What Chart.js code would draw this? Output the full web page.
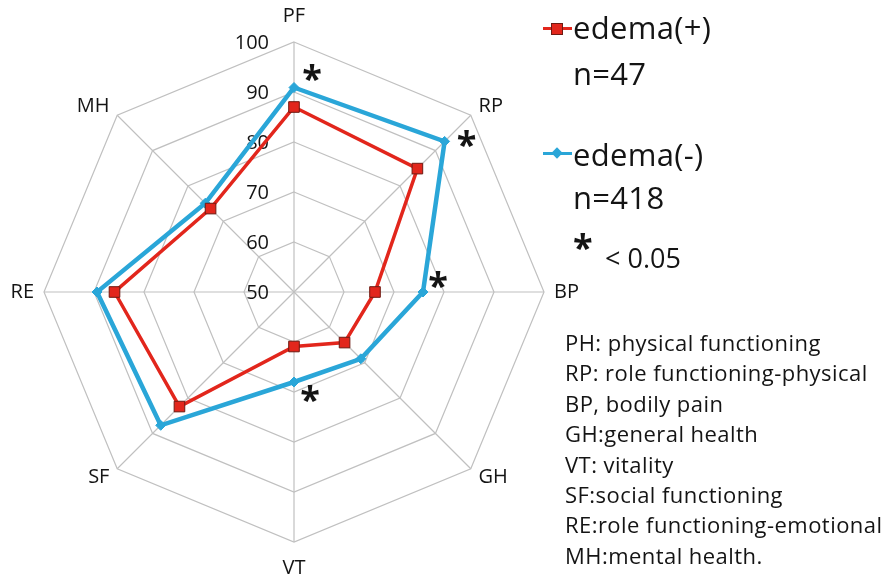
<!DOCTYPE html>
<html>
<head>
<meta charset="utf-8">
<script src="https://cdn.jsdelivr.net/npm/chart.js@4.4.1/dist/chart.umd.min.js"></script>
<style>
  html, body { margin: 0; padding: 0; background: #fff; }
  body { width: 896px; height: 579px; position: relative; overflow: hidden;
         font-family: 'Open Sans', sans-serif; color: #141414; }
  #wrap { position: absolute; left: -56px; top: 4px; width: 700px; height: 576px; }
  .t { position: absolute; white-space: nowrap; }
  .big { font-size: 31px; line-height: 36px; letter-spacing: 0.3px; }
  .line { position: absolute; height: 3px; }
  #notes { position: absolute; left: 565px; top: 327px; font-size: 22px; line-height: 30.4px;
           letter-spacing: 0.45px; white-space: nowrap; }
</style>
</head>
<body>
<div id="wrap"><canvas id="radar"></canvas></div>

<!-- legend -->
<div class="line" style="left:543px; top:27px; width:29px; background:#e2261c;"></div>
<div style="position:absolute; left:551px; top:23px; width:10px; height:10px; background:#e2261c; border:1px solid #6e1a12;"></div>
<div class="t big" style="left:573px; top:9px;">edema(+)</div>
<div class="t big" style="left:573px; top:55px;">n=47</div>

<div class="line" style="left:543px; top:152px; width:29px; background:#2aa6d8;"></div>
<div style="position:absolute; left:553px; top:149px; width:8px; height:8px; background:#2aa6d8; transform:rotate(45deg);"></div>
<div class="t big" style="left:573px; top:136px;">edema(-)</div>
<div class="t big" style="left:573px; top:179px;">n=418</div>

<div class="t" style="left:573px; top:227px; font-size:36px; line-height:40px; font-weight:bold;">*</div>
<div class="t" style="left:605px; top:242px; font-size:27px; line-height:32px;">&lt; 0.05</div>

<div id="notes">
  PH: physical functioning<br>
  RP: role functioning-physical<br>
  BP, bodily pain<br>
  GH:general health<br>
  VT: vitality<br>
  SF:social functioning<br>
  RE:role functioning-emotional<br>
  MH:mental health.
</div>

<script>
const axes = ['PF', 'RP', 'BP', 'GH', 'VT', 'SF', 'RE', 'MH'];
const edemaPos = [87.0, 84.9, 66.2, 64.3, 60.9, 82.4, 85.9, 73.6];
const edemaNeg = [90.9, 92.6, 75.8, 68.9, 68.0, 87.7, 89.4, 75.1];
const tickValues = [50, 60, 70, 80, 90, 100];
const significant = ['PF', 'RP', 'BP', 'VT'];

const RED = '#e2261c';
const BLUE = '#2aa6d8';
const GRID = '#c0c0c0';
const TEXT = '#141414';

// scale numbers sit left of the vertical axis, under the lines
const tickLabels = {
  id: 'tickLabels',
  beforeDatasetsDraw(chart) {
    const r = chart.scales.r;
    const ctx = chart.ctx;
    ctx.save();
    ctx.font = '20px "Open Sans"';
    ctx.fillStyle = TEXT;
    ctx.textAlign = 'right';
    ctx.textBaseline = 'middle';
    tickValues.forEach(v => {
      const d = r.getDistanceFromCenterForValue(v);
      ctx.fillText(String(v), r.xCenter - 25, r.yCenter - d + 1);
    });
    ctx.restore();
  }
};

// asterisks next to the edema(-) points where p < 0.05
const starOffsets = { PF: [18, -15], RP: [22, -2], BP: [15, -12], VT: [16, 12] };
const stars = {
  id: 'stars',
  afterDatasetsDraw(chart) {
    const meta = chart.getDatasetMeta(1);
    const ctx = chart.ctx;
    ctx.save();
    ctx.font = 'bold 36px "Open Sans"';
    ctx.fillStyle = TEXT;
    ctx.textAlign = 'center';
    ctx.textBaseline = 'alphabetic';
    significant.forEach(name => {
      const i = axes.indexOf(name);
      const pt = meta.data[i];
      const [dx, dy] = starOffsets[name];
      ctx.fillText('*', pt.x + dx, pt.y + dy + 18);
    });
    ctx.restore();
  }
};

// diagonal labels hug their corner: tiny line height keeps them level with it
const isDiagonal = (i) => i % 2 === 1;

new Chart(document.getElementById('radar'), {
  type: 'radar',
  data: {
    labels: axes,
    datasets: [
      {
        label: 'edema(+)',
        data: edemaPos,
        borderColor: RED,
        borderWidth: 3.5,
        pointStyle: 'rect',
        pointRadius: 7.5,
        pointBackgroundColor: RED,
        pointBorderColor: '#6e1a12',
        pointBorderWidth: 1,
        fill: false,
      },
      {
        label: 'edema(-)',
        data: edemaNeg,
        borderColor: BLUE,
        borderWidth: 4.5,
        pointStyle: 'rectRot',
        pointRadius: 5,
        pointBackgroundColor: BLUE,
        pointBorderColor: BLUE,
        pointBorderWidth: 1,
        fill: false,
      },
    ],
  },
  options: {
    responsive: true,
    maintainAspectRatio: false,
    animation: false,
    elements: { line: { tension: 0 } },
    plugins: {
      legend: { display: false },
      tooltip: { enabled: false },
    },
    scales: {
      r: {
        min: 50,
        max: 100,
        beginAtZero: false,
        ticks: { display: false, stepSize: 10 },
        grid: { color: GRID, lineWidth: 1.2 },
        angleLines: { color: GRID, lineWidth: 1.2 },
        pointLabels: {
          color: TEXT,
          font: (ctx) => ({
            family: 'Open Sans',
            size: 20,
            lineHeight: isDiagonal(ctx.index) ? 0.1 : 1.2,
          }),
          padding: (ctx) => {
            const name = axes[ctx.index];
            if (name === 'PF' || name === 'VT') return 14;
            if (name === 'RE' || name === 'BP') return 10;
            return 11;
          },
        },
      },
    },
  },
  plugins: [tickLabels, stars],
});
</script>
</body>
</html>
